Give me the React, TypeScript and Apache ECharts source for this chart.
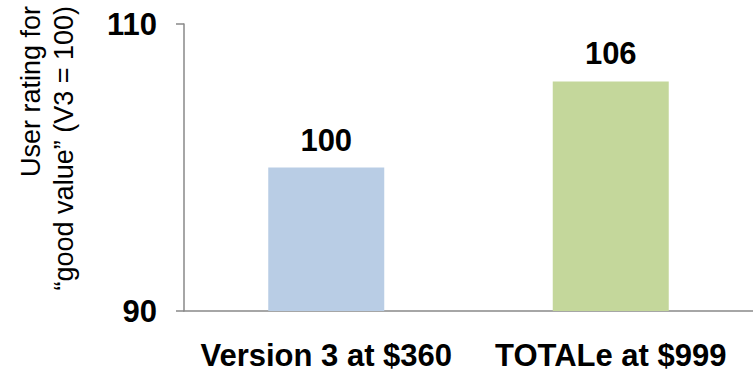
import React, { useEffect, useRef } from "react";
import * as echarts from "echarts";

const categories = ["Version 3 at $360", "TOTALe at $999"];
const ratings = [100, 106];
const barColors = ["#B9CDE5", "#C4D79B"];
const axisMin = 90;
const axisMax = 110;
const axisTitle = "User rating for\n\u201Cgood value\u201D (V3 = 100)";

const FONT = "'Liberation Sans', Arial, sans-serif";

export default function App() {
  const ref = useRef<HTMLDivElement>(null);

  useEffect(() => {
    if (!ref.current) return;
    const chart = echarts.init(ref.current, undefined, { renderer: "svg" });
    chart.setOption({
      animation: false,
      backgroundColor: "#ffffff",
      grid: { left: 184, top: 24, width: 580, height: 287, containLabel: false },
      xAxis: {
        type: "category",
        data: categories,
        axisLine: { show: true, lineStyle: { color: "#898989", width: 1.5 } },
        axisTick: { show: false },
        axisLabel: {
          interval: 0,
          hideOverlap: false,
          color: "#000",
          fontFamily: FONT,
          fontWeight: "bold",
          fontSize: 31,
          margin: 29,
        },
      },
      yAxis: {
        type: "value",
        min: axisMin,
        max: axisMax,
        interval: axisMax - axisMin,
        splitLine: { show: false },
        axisLine: { show: true, lineStyle: { color: "#898989", width: 1.5 } },
        axisTick: { show: true, length: 8, lineStyle: { color: "#898989", width: 1.5 } },
        axisLabel: {
          color: "#000",
          fontFamily: FONT,
          fontWeight: "bold",
          fontSize: 31,
          margin: 27,
        },
      },
      graphic: [
        {
          type: "text",
          x: 47,
          y: 6,
          rotation: Math.PI / 2,
          style: {
            text: axisTitle,
            fill: "#000",
            font: `27px ${FONT}`,
            lineHeight: 33,
            align: "right",
            verticalAlign: "middle",
          },
        },
      ],
      series: [
        {
          type: "bar",
          barWidth: 116,
          data: ratings.map((v, i) => ({ value: v, itemStyle: { color: barColors[i] } })),
          label: {
            show: true,
            position: "top",
            distance: 12,
            color: "#000",
            fontFamily: FONT,
            fontWeight: "bold",
            fontSize: 31,
          },
        },
      ],
    });
    return () => chart.dispose();
  }, []);

  return <div ref={ref} style={{ width: 753, height: 375, position: "absolute", left: 0, top: 0 }} />;
}
